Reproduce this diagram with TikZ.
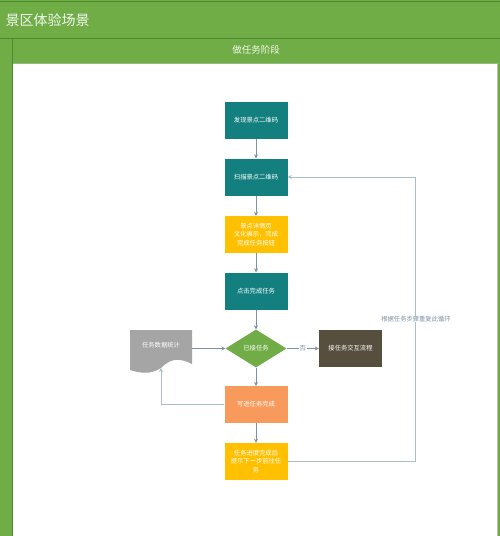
\documentclass[tikz,border=0pt]{standalone}
\usepackage{fontspec}
\setmainfont{Noto Sans CJK SC}
\usetikzlibrary{arrows.meta,calc,shapes.geometric}

\definecolor{vert}{HTML}{70AD47}
\definecolor{vertfonce}{HTML}{4E8A2E}
\definecolor{sarcelle}{HTML}{13807F}
\definecolor{jaune}{HTML}{FFC000}
\definecolor{orange}{HTML}{F79A5C}
\definecolor{gris}{HTML}{A5A5A5}
\definecolor{brun}{HTML}{574F3E}
\definecolor{fleche}{HTML}{7A93A6}
\definecolor{boucle}{HTML}{A9BFC4}
\definecolor{bord}{HTML}{B8BDBA}

\begin{document}
\begin{tikzpicture}[
  x=1pt,y=-1pt,
  >={Stealth[length=4pt,width=4pt]},
  boite/.style={minimum width=63pt,minimum height=37pt,inner sep=1pt,
    text=white,font=\fontsize{6.3}{8.5}\selectfont,align=center},
  etape/.style={boite,fill=sarcelle},
  info/.style={boite,fill=jaune},
  test/.style={diamond,fill=vert,minimum width=61pt,minimum height=38pt,
    aspect=1.6,inner sep=0pt,text=white,font=\fontsize{6.3}{8}\selectfont},
  fl/.style={->,fleche,semithick},
  retour/.style={->,boucle,semithick},
]
  % Cadre
  \useasboundingbox (0,0) rectangle (500,536);
  \fill[vert] (0,0) rectangle (500,536);
  \draw[vertfonce,thin] (0,1.5) -- (500,1.5);
  \fill[white] (13,63) rectangle (497,536);
  \draw[bord,thin] (497,63) -- (497,536);
  \draw[vertfonce,thin] (0,38) -- (500,38);
  \draw[vertfonce,thin] (12,38) -- (12,536);
  \draw[vertfonce!60,thin] (13,63) -- (497,63);
  \node[anchor=west,text=white!90!vert,font=\fontsize{14}{16}\selectfont] (titre) at (2,20) {景区体验场景};
  \node[text=white!90!vert,font=\fontsize{9.5}{11}\selectfont] (phase) at (256,50) {做任务阶段};

  % Etapes
  \node[etape] (decouvrir) at (256,120.5) {发现景点二维码};
  \node[etape] (scanner)   at (256,177)   {扫描景点二维码};
  \node[info]  (detail)    at (256,234.5) {景点详情页\\文化展示，完成\\完成任务按钮};
  \node[etape] (cliquer)   at (256,291)   {点击完成任务};
  \node[test]  (recu)      at (256,348.5) {已接任务};
  \node[boite,fill=brun] (accepter) at (350.5,348.5) {接任务交互流程};
  \node[boite,fill=orange] (ecrire) at (256,404.5) {写进任务完成};
  \node[info]  (suivant)   at (256,461.5) {任务进度完成后\\提示下一步前往任\\务};

  % Document
  \coordinate (bas) at (161,368);
  \fill[gris] (130,330) -- (192,330) -- (192,364)
    .. controls (178,357) and (170,359) .. (bas)
    .. controls (150,375) and (140,373) .. (130,370) -- cycle;
  \node[boite,minimum width=62pt,minimum height=30pt] (stats) at (161,345) {任务数据统计};

  % Fleches
  \draw[fl] (decouvrir) -- (scanner);
  \draw[fl] (scanner) -- (detail);
  \draw[fl] (detail) -- (cliquer);
  \draw[fl] (cliquer) -- (recu);
  \draw[fl] (recu) -- (ecrire);
  \draw[fl] (ecrire) -- (suivant);
  \draw[fl] (stats.east |- recu.west) -- (recu.west);
  \draw[fl] (recu.east) -- node[fill=white,inner sep=1pt,text=fleche,
    font=\fontsize{6.3}{8}\selectfont] {否} (accepter.west);
  \draw[retour] (ecrire.west) -| (bas);

  % Boucle
  \coordinate (coin) at (415,177);
  \draw[retour] (suivant.east) -| (coin) -- (scanner.east);
  \node[fill=white,inner sep=0.5pt,text=fleche,font=\fontsize{6.3}{8}\selectfont]
    (boucletxt) at (416,319) {根据任务步骤重复此循环};
\end{tikzpicture}
\end{document}
